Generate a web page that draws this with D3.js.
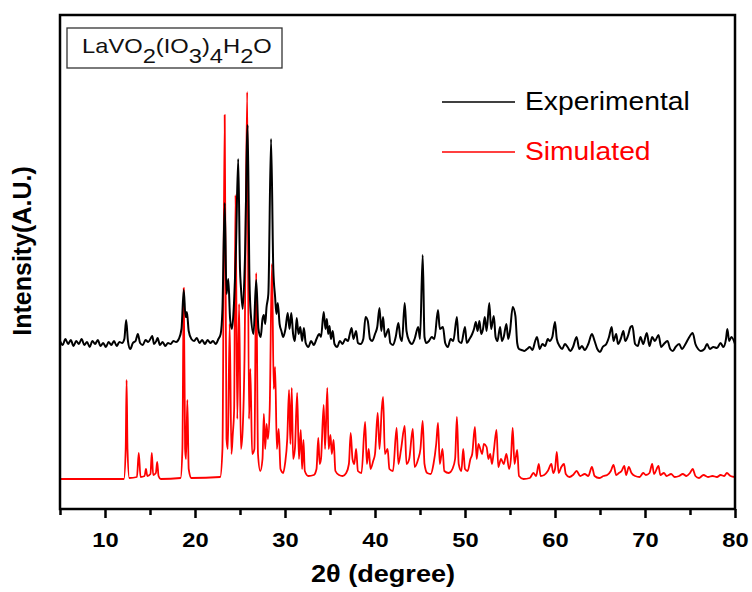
<!DOCTYPE html>
<html>
<head>
<meta charset="utf-8">
<script src="https://cdn.jsdelivr.net/npm/d3@7"></script>
<style>
  body { margin: 0; background: #fff; }
  text { font-family: "Liberation Sans", Arial, sans-serif; }
</style>
</head>
<body>
<div id="chart"></div>
<script>
// [2theta, intensity] (arbitrary units)
const experimental = [
  [5.0,168],[5.3,164],[5.6,170],[5.9,165],[6.2,169],[6.5,163],[6.8,168],[7.1,165],[7.4,170],[7.7,164],
  [8.0,167],[8.3,162],[8.6,168],[8.9,165],[9.2,169],[9.5,163],[9.8,166],[10.1,162],[10.4,167],[10.7,164],
  [11.0,168],[11.3,163],[11.6,167],[11.9,166],[12.15,170],[12.35,189],[12.55,168],[12.8,160],[13.1,166],[13.4,168],
  [13.65,175],[13.9,166],[14.2,164],[14.5,169],[14.8,167],[15.1,171],[15.25,173],[15.45,165],[15.7,168],[15.85,171],
  [16.1,164],[16.4,167],[16.7,163],[17.0,166],[17.3,165],[17.6,168],[17.9,167],[18.2,170],[18.5,180],[18.75,219],
  [18.95,192],[19.1,197],[19.3,178],[19.6,170],[19.9,168],[20.2,171],[20.5,166],[20.8,169],[21.1,165],[21.4,169],
  [21.7,166],[22.0,168],[22.3,165],[22.6,170],[22.85,175],[23.05,200],[23.3,306],[23.5,215],[23.7,230],[23.9,190],
  [24.1,180],[24.3,200],[24.55,260],[24.8,350],[25.0,240],[25.1,222],[25.3,200],[25.55,250],[25.85,384],[26.05,230],
  [26.2,195],[26.5,175],[26.8,229],[27.05,180],[27.3,172],[27.5,190],[27.65,194],[27.8,185],[27.95,202],[28.15,215],
  [28.45,370],[28.7,240],[28.9,212],[29.05,195],[29.2,206],[29.4,185],[29.6,178],[29.8,172],[30.05,180],[30.3,196],
  [30.5,180],[30.7,196],[30.9,175],[31.1,168],[31.3,191],[31.5,175],[31.7,182],[31.9,168],[32.1,181],[32.3,166],
  [32.6,162],[32.9,168],[33.2,164],[33.5,170],[33.8,175],[34.0,172],[34.3,197],[34.5,180],[34.65,190],[34.8,175],
  [34.95,183],[35.1,170],[35.3,178],[35.5,165],[35.8,162],[36.1,168],[36.4,165],[36.7,170],[37.0,168],[37.2,175],
  [37.4,181],[37.6,170],[37.9,178],[38.1,166],[38.4,165],[38.7,170],[38.95,192],[39.2,188],[39.45,170],[39.7,168],
  [40.0,175],[40.25,182],[40.5,201],[40.7,178],[40.9,192],[41.1,172],[41.5,180],[41.7,166],[42.0,164],[42.3,172],
  [42.6,186],[42.8,172],[43.0,168],[43.3,206],[43.5,178],[43.8,168],[44.1,165],[44.4,170],[44.8,182],[45.0,170],
  [45.3,254],[45.5,172],[45.7,166],[46.0,168],[46.3,172],[46.6,170],[47.0,199],[47.2,180],[47.55,182],[47.8,166],
  [48.1,162],[48.4,170],[48.7,168],[49.1,192],[49.3,168],[49.6,166],[50.0,182],[50.2,166],[50.5,170],[50.8,175],
  [51.0,180],[51.2,187],[51.4,178],[51.6,188],[51.8,175],[52.0,180],[52.2,192],[52.4,178],[52.7,206],[52.9,180],
  [53.2,193],[53.4,172],[53.6,168],[53.9,182],[54.1,168],[54.3,172],[54.6,185],[54.8,170],[55.0,178],[55.3,202],
  [55.6,193],[55.8,166],[56.0,160],[56.3,159],[56.6,158],[56.9,160],[57.2,162],[57.5,159],[57.8,168],[58.0,172],
  [58.3,160],[58.6,165],[58.9,163],[59.2,170],[59.4,168],[59.7,172],[60.0,187],[60.2,170],[60.5,163],[60.8,160],
  [61.1,165],[61.4,162],[61.7,158],[62.0,162],[62.4,172],[62.7,160],[63.0,163],[63.3,159],[63.7,165],[64.1,175],
  [64.4,168],[64.7,160],[65.0,157],[65.3,162],[65.7,165],[66.0,172],[66.3,182],[66.5,168],[66.8,175],[67.0,165],
  [67.3,170],[67.6,178],[67.8,168],[68.1,173],[68.4,182],[68.6,183],[68.9,165],[69.2,163],[69.5,172],[69.8,165],
  [70.2,176],[70.5,163],[70.8,172],[71.1,168],[71.5,174],[71.8,162],[72.1,165],[72.5,168],[72.8,160],[73.1,158],
  [73.4,162],[73.8,165],[74.1,160],[74.5,165],[74.8,170],[75.3,176],[75.6,165],[75.9,160],[76.2,158],[76.6,160],
  [76.9,165],[77.2,160],[77.6,162],[78.0,161],[78.4,166],[78.7,162],[79.0,170],[79.15,180],[79.35,168],[79.6,172],
  [80.0,165]
];

const simulated = [
  [5,30],[12.1,30],[12.3,60],[12.4,129],[12.5,60],[12.7,31],[13.55,32],[13.75,56],[13.95,32],[14.4,33],
  [14.55,40],[14.7,33],[15.05,35],[15.2,56],[15.35,34],[15.65,36],[15.8,47],[15.95,33],[16.2,30],[18.4,31],
  [18.6,60],[18.75,221],[18.9,60],[19.0,50],[19.15,109],[19.3,40],[19.6,31],[22.8,32],[23.05,60],[23.3,394],
  [23.5,70],[23.65,60],[23.85,185],[24.05,55],[24.2,75],[24.35,100],[24.5,314],[24.7,90],[24.9,205],[25.1,60],
  [25.3,80],[25.5,150],[25.8,417],[26.0,90],[26.15,140],[26.35,55],[26.6,60],[26.8,236],[27.0,55],[27.25,38],
  [27.5,50],[27.65,95],[27.8,60],[27.95,85],[28.1,70],[28.3,100],[28.55,245],[28.75,120],[28.9,142],[29.1,60],
  [29.3,80],[29.5,40],[29.8,36],[30.0,45],[30.25,70],[30.45,119],[30.6,65],[30.75,121],[30.9,50],[31.1,60],
  [31.35,116],[31.55,50],[31.75,79],[31.9,40],[32.05,69],[32.2,38],[32.6,33],[33.2,34],[33.5,40],[33.7,71],
  [33.85,45],[34.0,50],[34.3,104],[34.45,60],[34.7,121],[34.85,60],[35.05,74],[35.2,55],[35.4,69],[35.6,38],
  [36.0,34],[36.4,33],[36.8,36],[37.1,45],[37.3,76],[37.5,50],[37.7,45],[37.9,60],[38.1,38],[38.5,36],
  [38.9,87],[39.1,45],[39.3,60],[39.5,40],[39.8,48],[40.0,55],[40.3,96],[40.5,60],[40.75,100],[40.9,112],
  [41.1,55],[41.4,60],[41.6,40],[42.0,38],[42.4,81],[42.6,45],[42.9,60],[43.3,83],[43.5,45],[43.8,50],
  [44.2,80],[44.4,42],[44.8,50],[45.05,60],[45.3,88],[45.5,45],[45.8,36],[46.2,35],[46.5,45],[46.8,65],
  [47.0,86],[47.2,45],[47.5,60],[47.7,38],[48.2,36],[48.6,40],[48.9,50],[49.1,92],[49.3,45],[49.6,38],
  [49.8,60],[50.0,40],[50.3,38],[50.6,50],[50.8,55],[51.1,82],[51.3,50],[51.5,65],[51.7,60],[51.9,55],
  [52.1,65],[52.4,62],[52.6,50],[52.8,55],[53.0,45],[53.2,58],[53.5,79],[53.7,42],[54.0,50],[54.3,45],
  [54.6,55],[54.9,40],[55.1,50],[55.3,81],[55.5,45],[55.8,59],[56.0,33],[56.5,30],[57.2,31],[57.6,36],
  [57.9,33],[58.2,45],[58.4,33],[58.8,34],[59.2,38],[59.6,45],[59.8,36],[60.0,40],[60.2,57],[60.4,36],
  [60.7,42],[61.0,45],[61.2,35],[61.6,32],[62.0,34],[62.4,38],[62.8,33],[63.3,35],[63.7,33],[64.1,42],
  [64.4,33],[64.9,31],[65.4,33],[65.8,34],[66.2,38],[66.5,44],[66.8,34],[67.1,36],[67.4,38],[67.7,43],
  [67.9,34],[68.2,42],[68.5,36],[68.9,33],[69.4,32],[69.8,36],[70.1,34],[70.5,36],[70.8,45],[71.0,35],
  [71.5,43],[71.7,34],[72.1,36],[72.4,33],[72.9,35],[73.3,32],[73.8,33],[74.2,35],[74.6,33],[75.0,36],
  [75.3,40],[75.6,33],[76.0,31],[76.5,34],[77.0,32],[77.5,33],[78.0,32],[78.4,34],[78.8,33],[79.1,36],
  [79.5,33],[80,32]
];

const majorTicks = [10, 20, 30, 40, 50, 60, 70, 80];
const minorTicks = [5, 15, 25, 35, 45, 55, 65, 75];
const seriesNames = ["Experimental", "Simulated"];
const seriesColors = ["#000000", "#ff0000"];
// formula pieces: [text, isSubscript]
const formula = [["LaVO",0],["2",1],["(IO",0],["3",1],[")",0],["4",1],["H",0],["2",1],["O",0]];

const W = 752, H = 592;
const margin = {top: 15, right: 17, bottom: 83, left: 60};
const width = W - margin.left - margin.right,
      height = H - margin.top - margin.bottom;
const stretch = "scale(1.13,1)";

const root = d3.select("#chart").append("svg")
  .attr("width", W)
  .attr("height", H);
const svg = root.append("g")
  .attr("transform", `translate(${margin.left},${margin.top})`);

const x = d3.scaleLinear().domain([5, 80]).range([0, width]);
const y = d3.scaleLinear().domain([0, height]).range([height, 0]);

const line = d3.line()
  .curve(d3.curveMonotoneX)
  .x(d => x(d[0]))
  .y(d => y(d[1]));

// red under black, as in the figure
svg.append("path")
  .datum(simulated)
  .attr("fill", "none")
  .attr("stroke", seriesColors[1])
  .attr("stroke-width", 1.8)
  .attr("stroke-linejoin", "round")
  .attr("d", line);

svg.append("path")
  .datum(experimental)
  .attr("fill", "none")
  .attr("stroke", seriesColors[0])
  .attr("stroke-width", 2)
  .attr("stroke-linejoin", "round")
  .attr("d", line);

// frame
svg.append("rect")
  .attr("width", width)
  .attr("height", height)
  .attr("fill", "none")
  .attr("stroke", "#000")
  .attr("stroke-width", 2.5);

const xAxis = d3.axisBottom(x).tickValues(majorTicks).tickSize(9).tickFormat(d3.format("d"));
svg.append("g")
  .attr("transform", `translate(0,${height})`)
  .call(xAxis)
  .call(g => g.select(".domain").remove())
  .call(g => g.selectAll("line").attr("stroke", "#000").attr("stroke-width", 2.5))
  .call(g => g.selectAll("text")
    .attr("y", 38)
    .attr("dy", null)
    .attr("fill", "#000")
    .attr("font-size", 21)
    .attr("font-weight", "bold")
    .attr("font-family", "Liberation Sans, Arial, sans-serif")
    .attr("transform", stretch));

const xMinor = d3.axisBottom(x).tickValues(minorTicks).tickSize(6).tickFormat("");
svg.append("g")
  .attr("transform", `translate(0,${height})`)
  .call(xMinor)
  .call(g => g.select(".domain").remove())
  .call(g => g.selectAll("line").attr("stroke", "#000").attr("stroke-width", 2.5));

// axis titles
root.append("g")
  .attr("transform", `translate(383,582) ${stretch}`)
  .append("text")
  .attr("text-anchor", "middle")
  .attr("font-size", 24)
  .attr("font-weight", "bold")
  .text("2θ (degree)");

root.append("text")
  .attr("transform", "translate(31,251) rotate(-90)")
  .attr("text-anchor", "middle")
  .attr("font-size", 25)
  .attr("font-weight", "bold")
  .text("Intensity(A.U.)");

// compound label box
root.append("rect")
  .attr("x", 67).attr("y", 28)
  .attr("width", 215).attr("height", 40)
  .attr("fill", "#fff")
  .attr("stroke", "#333")
  .attr("stroke-width", 1.3);

const ftext = root.append("g")
  .attr("transform", `translate(82,53) ${stretch}`)
  .append("text")
  .attr("font-size", 21)
  .attr("fill", "#111");
let shifted = false;
formula.forEach(([t, sub]) => {
  const ts = ftext.append("tspan").text(t);
  if (sub && !shifted) { ts.attr("dy", 10); shifted = true; }
  else if (!sub && shifted) { ts.attr("dy", -10); shifted = false; }
});

// legend
const legend = root.append("g");
seriesNames.forEach((name, i) => {
  const ly = 102 + i * 50;
  legend.append("line")
    .attr("x1", 442).attr("x2", 515)
    .attr("y1", ly).attr("y2", ly)
    .attr("stroke", seriesColors[i])
    .attr("stroke-width", 1.6);
  legend.append("g")
    .attr("transform", `translate(525,${ly + 8}) ${stretch}`)
    .append("text")
    .attr("font-size", 25)
    .attr("fill", seriesColors[i])
    .text(name);
});
</script>
</body>
</html>
